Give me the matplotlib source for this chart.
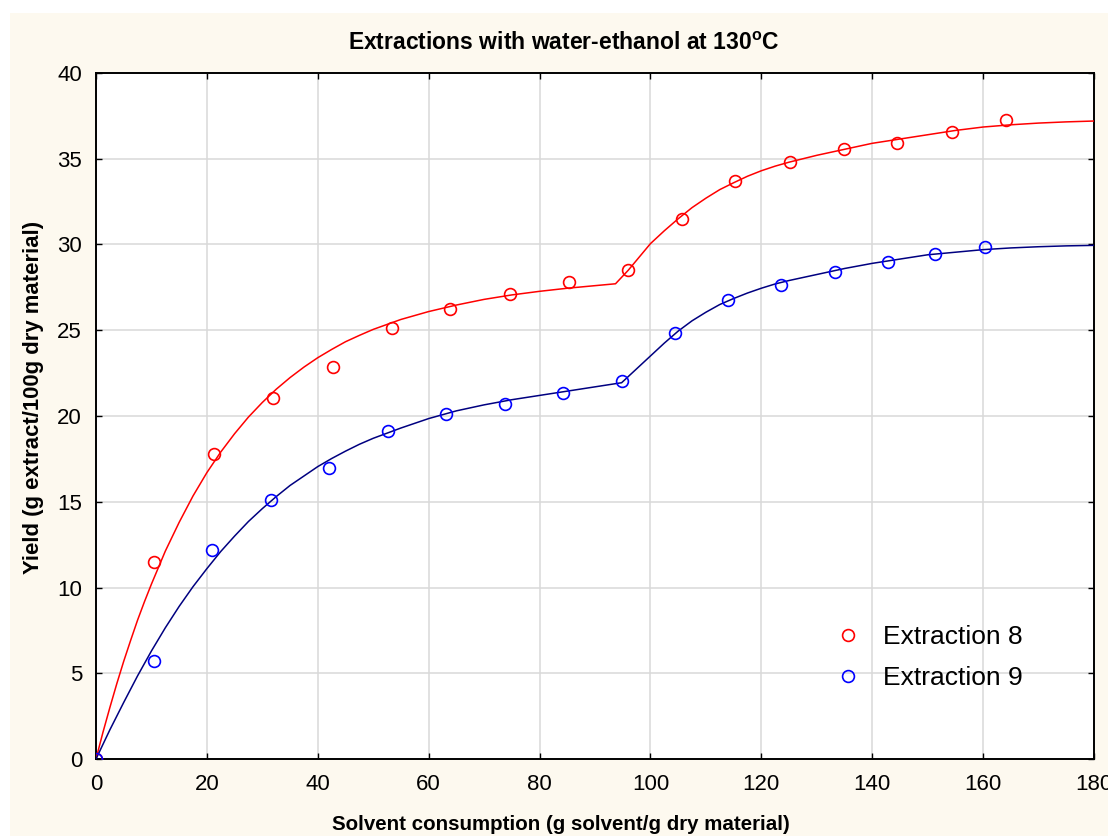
import numpy as np
from matplotlib import pyplot as plt
from matplotlib.patches import Rectangle

plt.rcParams['font.family'] = ['Liberation Sans', 'DejaVu Sans']

# measured points
x8 = [0, 10.5, 21.2, 31.9, 42.7, 53.3, 63.9, 74.7, 85.4, 96.0, 105.7, 115.3, 125.1, 134.9, 144.5, 154.3, 164.1]
y8 = [0, 11.5, 17.8, 21.03, 22.88, 25.11, 26.22, 27.11, 27.83, 28.51, 31.47, 33.69, 34.81, 35.55, 35.94, 36.58, 37.26]

x9 = [0, 10.4, 20.9, 31.6, 42.1, 52.6, 63.2, 73.7, 84.2, 94.8, 104.5, 114.0, 123.6, 133.2, 142.8, 151.4, 160.4]
y9 = [0, 5.73, 12.19, 15.1, 16.95, 19.14, 20.1, 20.72, 21.32, 22.06, 24.82, 26.76, 27.62, 28.4, 28.96, 29.43, 29.84]

# fitted curves
fit8_x = [0, 1.25, 2.5, 3.75, 5, 6.25, 7.5, 8.75, 10, 12.5, 15, 17.5, 20, 22.5, 25, 27.5, 30, 32.5, 35, 37.5,
          40, 42.5, 45, 47.5, 50, 55, 60, 65, 70, 75, 80, 85, 90, 93.7,
          96, 100, 102.5, 105, 107.5, 110, 112.5, 115, 117.5, 120, 122.5, 125, 130, 135, 140, 145, 150, 155,
          160, 165, 170, 175, 180]
fit8_y = [0, 1.55, 3.0, 4.39, 5.7, 6.92, 8.1, 9.18, 10.2, 12.12, 13.8, 15.34, 16.7, 17.9, 18.97, 19.94, 20.79, 21.56, 22.24, 22.85,
          23.4, 23.88, 24.33, 24.7, 25.05, 25.63, 26.09, 26.47, 26.8, 27.06, 27.27, 27.45, 27.6, 27.71,
          28.5, 30.05, 30.8, 31.5, 32.15, 32.7, 33.2, 33.6, 33.98, 34.3, 34.57, 34.8, 35.2, 35.55, 35.9, 36.15, 36.4, 36.65,
          36.85, 36.98, 37.08, 37.15, 37.2]

fit9_x = [0, 2.5, 5, 7.5, 10, 12.5, 15, 17.5, 20, 22.5, 25, 27.5, 30, 32.5, 35, 37.5, 40, 42.5, 45, 47.5,
          50, 55, 60, 65, 70, 75, 80, 85, 90, 94.8,
          97, 100, 102.5, 105, 107.5, 110, 112.5, 115, 117.5, 120, 122.5, 125, 130, 135, 140, 145, 150, 155,
          160, 165, 170, 175, 180]
fit9_y = [0, 1.7, 3.3, 4.85, 6.3, 7.65, 8.9, 10.05, 11.1, 12.1, 13.0, 13.85, 14.6, 15.3, 15.95, 16.5, 17.05, 17.52, 17.95, 18.35,
          18.7, 19.3, 19.85, 20.3, 20.65, 20.95, 21.2, 21.45, 21.7, 21.94,
          22.6, 23.5, 24.25, 24.95, 25.55, 26.05, 26.5, 26.85, 27.17, 27.45, 27.7, 27.9, 28.25, 28.6, 28.9, 29.15, 29.4, 29.55,
          29.7, 29.8, 29.87, 29.92, 29.95]

fig = plt.figure(figsize=(11.08, 8.36), dpi=100, facecolor='white')
fig.patches.append(Rectangle((10/1108, 0), 1 - 10/1108, 1 - 13/836, transform=fig.transFigure,
                             facecolor='#fdf9ef', edgecolor='none', zorder=-10))

ax = fig.add_axes([96/1108, 77/836, 998/1108, 686/836])
ax.set_facecolor('white')

ax.plot(fit8_x, fit8_y, '-', color='#ff0000', lw=1.1, zorder=3)
ax.plot(fit9_x, fit9_y, '-', color='#000080', lw=1.1, zorder=3)
ax.plot(x8, y8, 'o', mfc='none', mec='#ff0000', ms=8.5, mew=1.2, label='Extraction 8', zorder=4)
ax.plot(x9, y9, 'o', mfc='none', mec='#0000ff', ms=8.5, mew=1.2, label='Extraction 9', zorder=4)

ax.set_xlim(0, 180)
ax.set_ylim(0, 40)
ax.set_xticks(np.arange(0, 181, 20))
ax.set_yticks(np.arange(0, 41, 5))
ax.grid(True, color='#d9d9d9', lw=1.1)
ax.set_axisbelow(True)
ax.tick_params(direction='in', length=4, width=1, top=True, right=True, labelsize=16, colors='black')
ax.tick_params(axis='x', pad=11)
ax.tick_params(axis='y', pad=10)
for s in ax.spines.values():
    s.set_linewidth(1.4)

fig.text(564/1108, 1 - 43.5/836, 'Extractions with water-ethanol at 130$^{\\mathregular{o}}$C',
         ha='center', va='center', fontsize=16.5, fontweight='bold')
fig.text(561/1108, 1 - 824/836, 'Solvent consumption (g solvent/g dry material)',
         ha='center', va='center', fontsize=14.8, fontweight='bold')
fig.text(34/1108, 1 - 397/836, 'Yield (g extract/100g dry material)',
         ha='center', va='center', rotation=90, fontsize=15.9, fontweight='bold')

ax.legend(loc='upper left', bbox_to_anchor=(835/1108, 1 - 625/836), bbox_transform=fig.transFigure,
          frameon=False, fontsize=19, handlelength=1, handletextpad=0.83, labelspacing=0.64,
          borderpad=0, borderaxespad=0)

plt.savefig('out.png', dpi=100)
